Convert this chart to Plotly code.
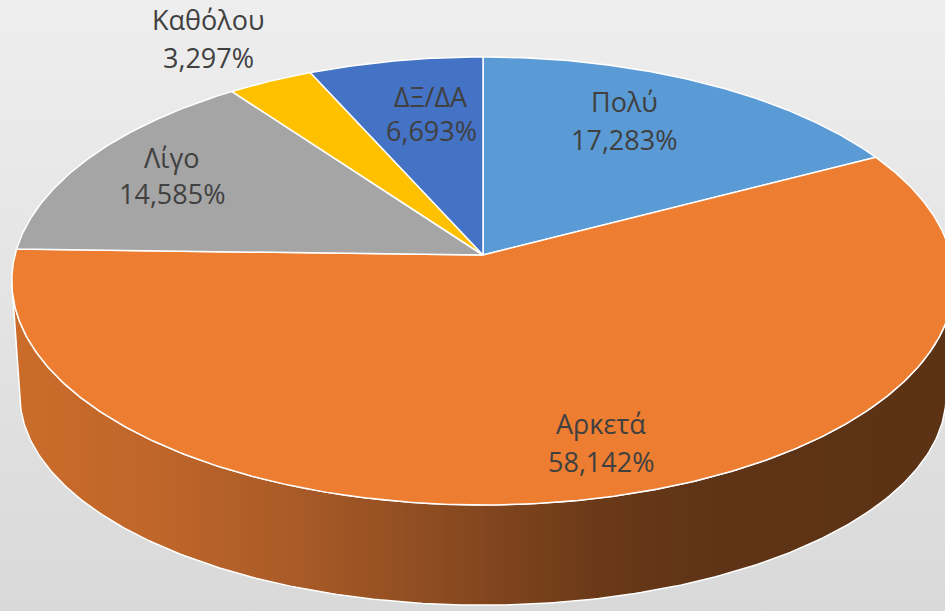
import numpy as np
import plotly.graph_objects as go

# Survey answers and their shares (%)
categories = ["Πολύ", "Αρκετά", "Λίγο", "Καθόλου", "ΔΞ/ΔΑ"]
shares = [17.283, 58.142, 14.585, 3.297, 6.693]

# Styling
top_colors = ["#5B9BD5", "#ED7D31", "#A5A5A5", "#FFC000", "#4472C4"]
side_scales = {
    1: [[0.0, "#CB6C2A"], [0.147, "#C0662A"], [0.306, "#A85A27"], [0.465, "#8A4A20"],
        [0.624, "#6A3918"], [0.75, "#5E3316"], [1.0, "#5C3215"]],
}
# label anchors in page pixels: x, y of name line, y of value line
label_pos = [(624, 101, 139), (601, 423, 461), (172, 157, 193), (208, 19, 57), (431, 96, 130)]

W, H = 945, 611
CX = 483
CY_TOP, RX_TOP, RY_TOP = 255, 468, 221
CY_BOT, RX_BOT, RY_BOT = 371, 460, 207
PERSP = 0.116


def project(theta_deg, rx, ry, cy):
    """Perspective projection of a point on the pie rim (angle clockwise from 12 o'clock)."""
    t = np.radians(np.asarray(theta_deg, dtype=float))
    xs, ys = np.sin(t), np.cos(t)
    w = 1.0 / (1.0 + PERSP * ys)
    px = CX + rx * xs * w
    py = cy - ry * ys * w
    return px, H - py


fig = go.Figure()

# page background with a soft vertical gradient
fig.add_trace(go.Scatter(
    x=[0, W, W, 0, 0], y=[0, 0, H, H, 0], mode="lines", fill="toself",
    line=dict(width=0), hoverinfo="skip",
    fillgradient=dict(type="vertical", colorscale=[[0, "#D9D9D9"], [1, "#EEEEEE"]]),
))

# slice angles
ends = np.cumsum(shares) / np.sum(shares) * 360.0
starts = np.concatenate([[0.0], ends[:-1]])

# visible side wall: between the two silhouette angles
sil_r = np.degrees(np.arccos(-PERSP))
sil_l = 360.0 - sil_r

for i, (a0, a1) in enumerate(zip(starts, ends)):
    lo, hi = max(a0, sil_r), min(a1, sil_l)
    if hi <= lo:
        continue
    th = np.linspace(lo, hi, 240)
    tx, ty = project(th, RX_TOP, RY_TOP, CY_TOP)
    bx, by = project(th[::-1], RX_BOT, RY_BOT, CY_BOT)
    xs = np.concatenate([tx, bx, tx[:1]])
    ys = np.concatenate([ty, by, ty[:1]])
    scale = side_scales.get(i, [[0, top_colors[i]], [1, top_colors[i]]])
    fig.add_trace(go.Scatter(
        x=xs, y=ys, mode="lines", fill="toself",
        line=dict(color="white", width=1.5), hoverinfo="skip",
        fillgradient=dict(type="horizontal", colorscale=scale),
    ))

# top faces of the slices
for i, (a0, a1) in enumerate(zip(starts, ends)):
    th = np.linspace(a0, a1, max(int((a1 - a0) * 2), 8))
    ax, ay = project(th, RX_TOP, RY_TOP, CY_TOP)
    xs = np.concatenate([[CX], ax, [CX]])
    ys = np.concatenate([[H - CY_TOP], ay, [H - CY_TOP]])
    fig.add_trace(go.Scatter(
        x=xs, y=ys, mode="lines", fill="toself", fillcolor=top_colors[i],
        line=dict(color="white", width=1.5), hoverinfo="skip",
    ))

# data labels
font = dict(family="Open Sans, Calibri, sans-serif", size=27, color="#404040")
for name, val, (lx, ny, vy) in zip(categories, shares, label_pos):
    fig.add_annotation(x=lx, y=H - ny, text=name, showarrow=False,
                       xanchor="center", yanchor="middle", font=font)
    fig.add_annotation(x=lx, y=H - vy, text=f"{val:.3f}".replace(".", ",") + "%",
                       showarrow=False, xanchor="center", yanchor="middle", font=font)

fig.update_layout(
    width=W, height=H, margin=dict(l=0, r=0, t=0, b=0),
    paper_bgcolor="#E6E6E6", plot_bgcolor="rgba(0,0,0,0)", showlegend=False,
    xaxis=dict(range=[0, W], visible=False, fixedrange=True),
    yaxis=dict(range=[0, H], visible=False, fixedrange=True),
)

fig.write_html("out.html")
